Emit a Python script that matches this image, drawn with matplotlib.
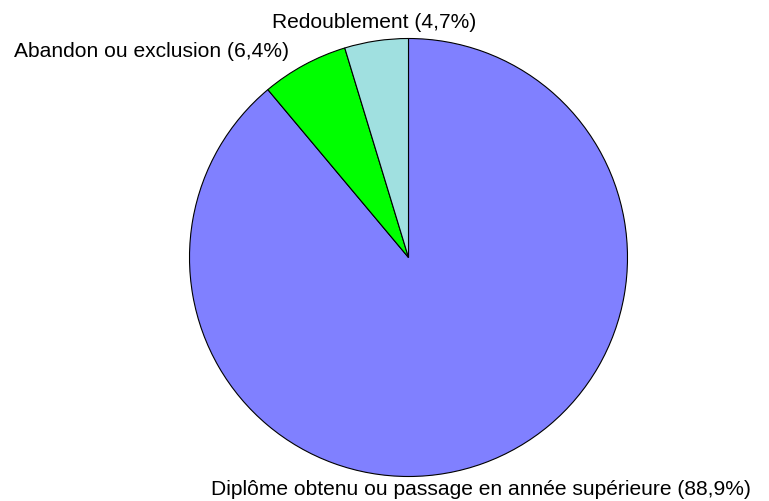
import matplotlib.pyplot as plt

labels = ["Diplôme obtenu ou passage en année supérieure (88,9%)",
          "Abandon ou exclusion (6,4%)",
          "Redoublement (4,7%)"]
values = [88.9, 6.4, 4.7]
colors = ["#8080FF", "#00FF00", "#A0E0E0"]

plt.rcParams['font.family'] = ['Liberation Sans', 'DejaVu Sans']

W, H = 769, 502
fig = plt.figure(figsize=(W / 100, H / 100), dpi=100)
cx, cy, r = 408.5, 258.5, 219
ax = fig.add_axes([(cx - r) / W, (H - cy - r) / H, 2 * r / W, 2 * r / H])
ax.pie(values, colors=colors, startangle=90, counterclock=False,
       wedgeprops=dict(edgecolor="black", linewidth=0.8))
ax.set_xlim(-1, 1)
ax.set_ylim(-1, 1)
ax.set_aspect("equal")
ax.axis("off")

# positions des etiquettes (pixels : gauche, ligne de base)
pos = [(211, 495), (14, 57), (272, 28)]
for lab, (x, y) in zip(labels, pos):
    fig.text(x / W, 1 - y / H, lab, ha="left", va="baseline", fontsize=15.1)

fig.savefig("out.png", dpi=100)
